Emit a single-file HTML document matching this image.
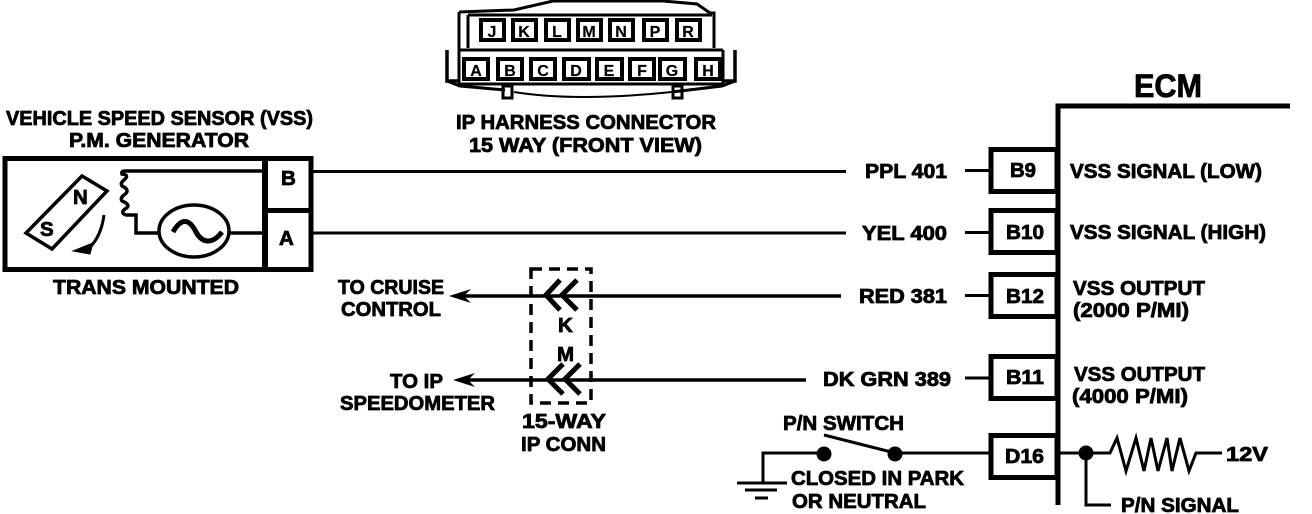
<!DOCTYPE html>
<html><head><meta charset="utf-8"><style>
html,body{margin:0;padding:0;background:#fff;width:1312px;height:514px;overflow:hidden}
svg{display:block}
text{font-family:"Liberation Sans",sans-serif;font-weight:bold;fill:#000;stroke:#000;stroke-width:.8}
.s{font-size:20.500px}
.c{font-size:16px;stroke-width:.2}
</style></head><body>
<svg width="1312" height="514" viewBox="0 0 1312 514" xmlns="http://www.w3.org/2000/svg">
<g fill="none" stroke="#000" stroke-width="3">
<!-- IP connector -->
<g stroke-width="3">
<path d="M459 12L514 10L553 1H663L697 4L710 13H714V48M459 12V50M468 15H712M468 15V48"/>
<path d="M459 50H723M459 50V82M723 50V84H459V50"/>
<path d="M447 50V81H459M735 50V81H723" stroke-width="3.500"/>
<path d="M447 81L460 86L505 90M735 81L722 86L672 92"/>
<path d="M514 92Q575 102 672 92" stroke-width="2"/>
<rect x="503" y="86" width="9" height="12"/><rect x="673" y="86" width="9" height="12"/>
</g>
<g stroke-width="4">
<rect x="481" y="20" width="23" height="20"/><rect x="513" y="20" width="23" height="20"/><rect x="546" y="20" width="23" height="20"/><rect x="578" y="20" width="23" height="20"/><rect x="610" y="20" width="23" height="20"/><rect x="644" y="20" width="23" height="20"/><rect x="677" y="20" width="23" height="20"/>
<rect x="464" y="59" width="24" height="20"/><rect x="498" y="59" width="24" height="20"/><rect x="531" y="59" width="24" height="20"/><rect x="564" y="59" width="25" height="20"/><rect x="597" y="59" width="25" height="20"/><rect x="630" y="59" width="24" height="20"/><rect x="660" y="59" width="25" height="20"/><rect x="696" y="59" width="24" height="20"/>
</g>
<!-- sensor -->
<rect x="5" y="158.500" width="306" height="111" stroke-width="5"/>
<path d="M265 158V270" stroke-width="6"/>
<path d="M268 210.500H311" stroke-width="5"/>
<path d="M125 171H263M229 233H263M160 233H136V215H126Q120 213 125 209Q132 205 122 201Q120 198 124 195Q131 190 122 186Q120 183 124 180Q130 175 122 174Q121 171 125 171" stroke-width="3.500"/>
<ellipse cx="194" cy="231" rx="35" ry="26" stroke-width="3.500"/>
<path d="M173 232C182 216 190 220 196 232C202 243 212 245 222 232" stroke-width="5"/>
<path d="M82 176L107 191L52 249L26 233Z" stroke-width="3.500"/>
<path d="M104 215Q101 237 89 248" stroke-width="3"/>
<path d="M73 251L93 243L90 254Z" fill="#000" stroke-width="1"/>
<!-- wires -->
<path d="M313 171.500H846M313 233H846M965 170.500H990M965 232.500H990M965 295.500H990M965 378H990"/>
<path d="M455 296H841M462 380H806" stroke-width="3.500"/>
<path d="M531 269H591V403H531Z" stroke-dasharray="11 7" stroke-width="3.500"/>
<path d="M560 280L546 295L560 310M577 280L562 295L577 310M563 364L548 379L563 394M580 364L565 379L580 394" stroke-width="5"/>
<!-- ECM -->
<path d="M1290 106H1058V505" stroke-width="5"/>
<rect x="991" y="149.500" width="66" height="42" stroke-width="5"/>
<rect x="991" y="210.500" width="66" height="42" stroke-width="5"/>
<rect x="991" y="274.500" width="66" height="42" stroke-width="5"/>
<rect x="991" y="356.500" width="66" height="42" stroke-width="5"/>
<rect x="991" y="435.500" width="66" height="42" stroke-width="5"/>
<!-- switch -->
<path d="M895 453H990M824 453H763V483M737 483H787M745 490H777M755 498H768" stroke-width="3"/>
<path d="M824 435L895 453" stroke-width="3"/>
<path d="M1060 453H1110L1117 438L1126 471L1136 438L1144 471L1151 438L1158 471L1167 438L1172 471L1180 438L1189 471L1196 453H1222M1086 453V505H1111" stroke-width="3"/>
</g>
<g fill="#000">
<circle cx="824" cy="454" r="7.500"/><circle cx="895" cy="454" r="7.500"/><circle cx="1086" cy="453" r="7.500"/>
<path d="M449 296L471 289L464 296L471 303Z"/><path d="M453 380L475 373L468 380L475 387Z"/>
</g>
<!-- connector letters -->
<g>
<text class="c" x="492" y="37" text-anchor="middle">J</text><text class="c" x="524" y="37" text-anchor="middle">K</text><text class="c" x="557" y="37" text-anchor="middle">L</text><text class="c" x="589" y="37" text-anchor="middle">M</text><text class="c" x="621" y="37" text-anchor="middle">N</text><text class="c" x="655" y="37" text-anchor="middle">P</text><text class="c" x="688" y="37" text-anchor="middle">R</text>
<text class="c" x="476" y="76" text-anchor="middle">A</text><text class="c" x="510" y="76" text-anchor="middle">B</text><text class="c" x="543" y="76" text-anchor="middle">C</text><text class="c" x="576" y="76" text-anchor="middle">D</text><text class="c" x="609" y="76" text-anchor="middle">E</text><text class="c" x="642" y="76" text-anchor="middle">F</text><text class="c" x="672" y="76" text-anchor="middle">G</text><text class="c" x="708" y="76" text-anchor="middle">H</text>
</g>
<text x="456" y="129" class="s" textLength="260" lengthAdjust="spacingAndGlyphs">IP HARNESS CONNECTOR</text>
<text x="469" y="152" class="s" textLength="233" lengthAdjust="spacingAndGlyphs">15 WAY (FRONT VIEW)</text>
<text x="6" y="125" class="s" textLength="307" lengthAdjust="spacingAndGlyphs">VEHICLE SPEED SENSOR (VSS)</text>
<text x="69" y="147" class="s" textLength="180" lengthAdjust="spacingAndGlyphs">P.M. GENERATOR</text>
<text x="53" y="294" class="s" textLength="186" lengthAdjust="spacingAndGlyphs">TRANS MOUNTED</text>
<text x="281" y="185" class="s">B</text><text x="279" y="245" class="s">A</text>
<text x="73" y="204" class="s">N</text><text x="40" y="236" class="s">S</text>
<text x="865" y="178" class="s" textLength="82" lengthAdjust="spacingAndGlyphs">PPL 401</text>
<text x="862" y="240" class="s" textLength="85" lengthAdjust="spacingAndGlyphs">YEL 400</text>
<text x="859" y="303" class="s" textLength="88" lengthAdjust="spacingAndGlyphs">RED 381</text>
<text x="823" y="386" class="s" textLength="128" lengthAdjust="spacingAndGlyphs">DK GRN 389</text>
<text x="1010" y="177" class="s" textLength="26" lengthAdjust="spacingAndGlyphs">B9</text>
<text x="1006" y="239" class="s" textLength="38" lengthAdjust="spacingAndGlyphs">B10</text>
<text x="1006" y="303" class="s" textLength="38" lengthAdjust="spacingAndGlyphs">B12</text>
<text x="1006" y="384" class="s" textLength="38" lengthAdjust="spacingAndGlyphs">B11</text>
<text x="1005" y="463" class="s" textLength="39" lengthAdjust="spacingAndGlyphs">D16</text>
<text x="1134" y="97" style="font-size:32px" textLength="68" lengthAdjust="spacingAndGlyphs">ECM</text>
<text x="1070" y="178" class="s" textLength="192" lengthAdjust="spacingAndGlyphs">VSS SIGNAL (LOW)</text>
<text x="1070" y="239" class="s" textLength="196" lengthAdjust="spacingAndGlyphs">VSS SIGNAL (HIGH)</text>
<text x="1073" y="295" class="s" textLength="132" lengthAdjust="spacingAndGlyphs">VSS OUTPUT</text>
<text x="1073" y="317" class="s" textLength="116" lengthAdjust="spacingAndGlyphs">(2000 P/MI)</text>
<text x="1074" y="381" class="s" textLength="131" lengthAdjust="spacingAndGlyphs">VSS OUTPUT</text>
<text x="1072" y="403" class="s" textLength="116" lengthAdjust="spacingAndGlyphs">(4000 P/MI)</text>
<text x="1226" y="461" class="s" textLength="42" lengthAdjust="spacingAndGlyphs">12V</text>
<text x="1121" y="512" class="s" textLength="118" lengthAdjust="spacingAndGlyphs">P/N SIGNAL</text>
<text x="783" y="430" class="s" textLength="121" lengthAdjust="spacingAndGlyphs">P/N SWITCH</text>
<text x="791" y="485" class="s" textLength="173" lengthAdjust="spacingAndGlyphs">CLOSED IN PARK</text>
<text x="792" y="508" class="s" textLength="134" lengthAdjust="spacingAndGlyphs">OR NEUTRAL</text>
<text x="338" y="294" class="s" textLength="106" lengthAdjust="spacingAndGlyphs">TO CRUISE</text>
<text x="341" y="316" class="s" textLength="100" lengthAdjust="spacingAndGlyphs">CONTROL</text>
<text x="390" y="388" class="s" textLength="53" lengthAdjust="spacingAndGlyphs">TO IP</text>
<text x="340" y="410" class="s" textLength="155" lengthAdjust="spacingAndGlyphs">SPEEDOMETER</text>
<text x="558" y="332" class="s">K</text>
<text x="557" y="361" class="s">M</text>
<text x="522" y="428" class="s" textLength="84" lengthAdjust="spacingAndGlyphs">15-WAY</text>
<text x="521" y="451" class="s" textLength="85" lengthAdjust="spacingAndGlyphs">IP CONN</text>
</svg>
</body></html>
